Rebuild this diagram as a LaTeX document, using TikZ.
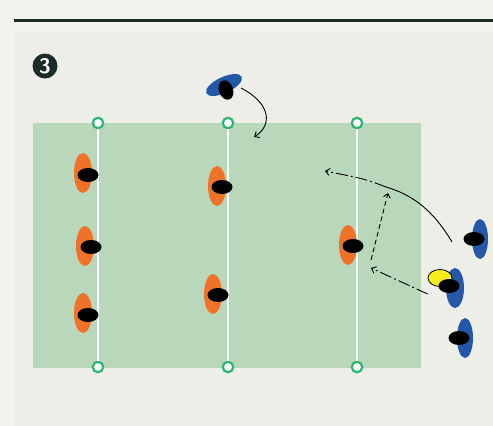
\documentclass[tikz,border=0pt]{standalone}
\usepackage{xcolor}
\usepackage{tikz}
\usetikzlibrary{arrows.meta, shapes.geometric}

\definecolor{paper}{HTML}{F3F2EC}
\definecolor{panel}{HTML}{ECEEE7}
\definecolor{ink}{HTML}{1B2C29}
\definecolor{grass}{HTML}{B9D8BB}
\definecolor{cone}{HTML}{2BB673}
\definecolor{redside}{HTML}{F07228}
\definecolor{blueside}{HTML}{2457A8}
\definecolor{ballyellow}{HTML}{F6EC1C}

\begin{document}
\begin{tikzpicture}[x=1pt, y=-1pt, >={Straight Barb[length=4pt, width=7pt]},
        ring/.style={circle, draw=cone, fill=white, line width=2.2pt, minimum size=10.5pt, inner sep=0pt},
        defender/.style={ellipse, fill=redside, minimum width=18pt, minimum height=40pt, inner sep=0pt},
        attacker/.style={ellipse, fill=blueside, minimum width=16pt, minimum height=40pt, inner sep=0pt},
        head/.style={ellipse, fill=black, minimum width=21pt, minimum height=14pt, inner sep=0pt},
        ball/.style={ellipse, draw=black, fill=ballyellow, line width=0.8pt, minimum width=24pt, minimum height=17pt, inner sep=0pt},
        run/.style={line width=0.9pt},
        pass/.style={line width=0.9pt, dash pattern=on 12pt off 3pt on 2pt off 3pt},
        support/.style={line width=0.9pt, dash pattern=on 5pt off 3pt}]

        \useasboundingbox (0,0) rectangle (493,426);
        \fill[paper] (0,0) rectangle (493,426);
        \fill[panel] (14,33) rectangle (493,426);
        \draw[ink, line width=3pt] (14,20) -- (493,20);

        \node (badge) [circle, fill=ink, text=white, minimum size=25pt, inner sep=0pt, font=\sffamily\bfseries\fontsize{21}{21}\selectfont] at (45,66) {3};

        % pitch
        \fill[grass] (33,123) rectangle (421,368);
        \node (r1) [ring] at (98,123) {};
        \node (r2) [ring] at (228,123) {};
        \node (r3) [ring] at (357,123) {};
        \node (r4) [ring] at (98,367) {};
        \node (r5) [ring] at (228,367) {};
        \node (r6) [ring] at (357,367) {};
        \draw[white, line width=1.5pt] (r1) -- (r4);
        \draw[white, line width=1.5pt] (r2) -- (r5);
        \draw[white, line width=1.5pt] (r3) -- (r6);

        % defenders
        \node (d1) [defender] at (83,173) {};
        \node (d2) [defender] at (85,246) {};
        \node (d3) [defender] at (83,313) {};
        \node (d4) [defender] at (217,186) {};
        \node (d5) [defender] at (213,294) {};
        \node (d6) [defender] at (348,245) {};
        \node (hd1) [head] at (88,175) {};
        \node (hd2) [head] at (91,247) {};
        \node (hd3) [head] at (88,315) {};
        \node (hd4) [head] at (222,187) {};
        \node (hd5) [head] at (218,295) {};
        \node (hd6) [head] at (353,246) {};

        % attackers
        \node (a0) [attacker, minimum width=39pt, minimum height=16pt, rotate=25] at (224,85) {};
        \node (ha0) [head, minimum width=14pt, minimum height=20pt, rotate=20] at (226,90) {};
        \node (a1) [attacker] at (480,239) {};
        \node (ha1) [head] at (474,239) {};
        \node (a2) [attacker, minimum width=18pt] at (455,288) {};
        \node (bl) [ball] at (440,278) {};
        \node (ha2) [head] at (449,286) {};
        \node (a3) [attacker] at (465,338) {};
        \node (ha3) [head] at (459,338) {};

        % lines
        \coordinate (t0) at (241,88);
        \coordinate (t1) at (254,137);
        \coordinate (s1) at ([shift={(-22,3)}]ha1.center);
        \coordinate (m1) at (386,187);
        \coordinate (e1) at (325,171);
        \coordinate (s2) at ([shift={(0,16)}]bl.west);
        \coordinate (e2) at (371,268);
        \coordinate (k1) at (371,260);
        \coordinate (k2) at (388,193);

        \draw[->, run] (t0) .. controls (272,104) and (272,126) .. (t1);
        \draw[run] (s1) .. controls (432,208) and (410,194) .. (m1);
        \draw[->, pass] (m1) .. controls (365,179) .. (e1);
        \draw[->, support] (k1) -- (k2);
        \draw[->, pass] (s2) -- (e2);
    \end{tikzpicture}
\end{document}
